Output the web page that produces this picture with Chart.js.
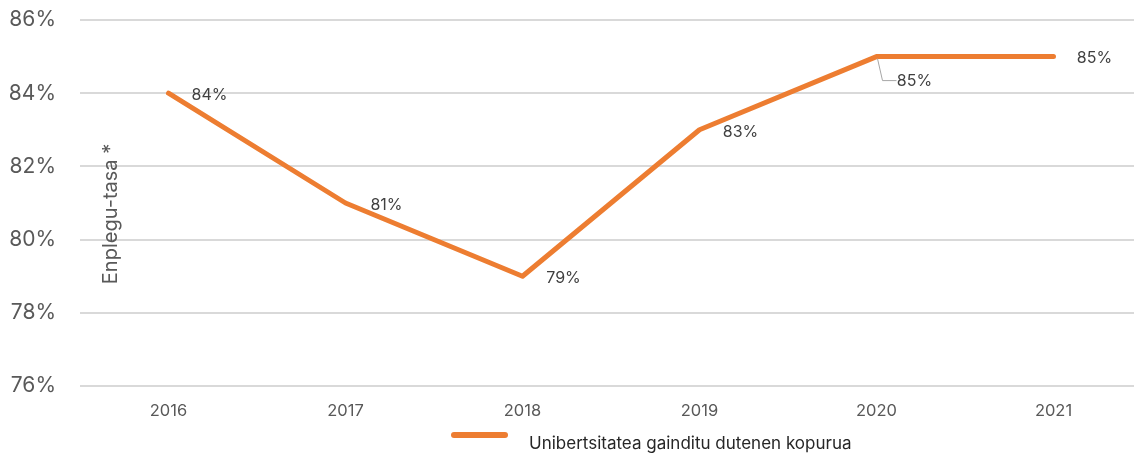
<!DOCTYPE html>
<html>
<head>
<meta charset="utf-8">
<script src="https://cdn.jsdelivr.net/npm/chart.js@4"></script>
<style>
  html, body { margin: 0; padding: 0; background: #fff; overflow: hidden; }
  #wrap { position: relative; width: 1142px; height: 455px; }
</style>
</head>
<body>
<div id="wrap"><canvas id="chart" width="1142" height="455"></canvas></div>
<script>
// chart data
const years = ['2016', '2017', '2018', '2019', '2020', '2021'];
const rates = [84, 81, 79, 83, 85, 85];
const seriesName = 'Unibertsitatea gainditu dutenen kopurua';
const axisTitle = 'Enplegu-tasa *';

const FONT = 'Inter, "Open Sans", sans-serif';
const ORANGE = '#ED7D31';

// value labels next to each point
const labelPlugin = {
  id: 'valueLabels',
  afterDatasetsDraw(chart) {
    const ctx = chart.ctx;
    const pts = chart.getDatasetMeta(0).data;
    ctx.save();
    ctx.font = '16px ' + FONT;
    ctx.fillStyle = '#404040';
    ctx.textAlign = 'center';
    ctx.textBaseline = 'middle';
    pts.forEach(function(p, i) {
      let dx = 41, dy = 2;
      if (i === 4) {
        // label pushed below with a leader line
        dx = 38;
        dy = 25;
        ctx.strokeStyle = '#a6a6a6';
        ctx.lineWidth = 1;
        ctx.beginPath();
        ctx.moveTo(p.x + 1, p.y + 2);
        ctx.lineTo(p.x + 6, p.y + 24);
        ctx.lineTo(p.x + 20, p.y + 24);
        ctx.stroke();
      }
      ctx.fillText(rates[i] + '%', p.x + dx, p.y + dy);
    });
    ctx.restore();
  }
};

// rotated axis title inside the plot, and legend at the bottom
const extrasPlugin = {
  id: 'extras',
  afterDraw(chart) {
    const ctx = chart.ctx;
    ctx.save();
    ctx.translate(111, 214);
    ctx.rotate(-Math.PI / 2);
    ctx.font = '20px ' + FONT;
    ctx.fillStyle = '#595959';
    ctx.textAlign = 'center';
    ctx.textBaseline = 'middle';
    ctx.fillText(axisTitle, 0, 0);
    ctx.restore();

    ctx.save();
    ctx.strokeStyle = ORANGE;
    ctx.lineWidth = 6;
    ctx.lineCap = 'round';
    ctx.beginPath();
    ctx.moveTo(454, 435);
    ctx.lineTo(505, 435);
    ctx.stroke();
    ctx.font = '17px ' + FONT;
    ctx.fillStyle = '#262626';
    ctx.textBaseline = 'middle';
    ctx.fillText(seriesName, 529, 444);
    ctx.restore();
  }
};

new Chart(document.getElementById('chart'), {
  type: 'line',
  data: {
    labels: years,
    datasets: [{
      label: seriesName,
      data: rates,
      borderColor: ORANGE,
      backgroundColor: ORANGE,
      borderWidth: 5,
      pointRadius: 0,
      tension: 0,
      borderCapStyle: 'round',
      borderJoinStyle: 'round'
    }]
  },
  options: {
    responsive: false,
    animation: false,
    layout: { padding: { top: 20, bottom: 0, left: 0, right: 0 } },
    plugins: {
      legend: { display: false },
      tooltip: { enabled: false }
    },
    scales: {
      x: {
        offset: true,
        grid: { display: false, drawTicks: false },
        border: { display: false },
        ticks: { color: '#595959', font: { size: 16.5, family: FONT }, padding: 15, maxRotation: 0 },
        afterFit(s) { s.height = 69; }
      },
      y: {
        min: 76,
        max: 86,
        grid: { color: '#d9d9d9', lineWidth: 2, drawTicks: false },
        border: { display: false },
        ticks: {
          stepSize: 2,
          color: '#595959',
          font: { size: 21, family: FONT },
          padding: 24,
          callback: function(v) { return v + '%'; }
        },
        afterFit(s) {
          s.width = 80;
          s.paddingTop = 0;
          s.paddingBottom = 0;
        }
      }
    }
  },
  plugins: [labelPlugin, extrasPlugin]
});
</script>
</body>
</html>
